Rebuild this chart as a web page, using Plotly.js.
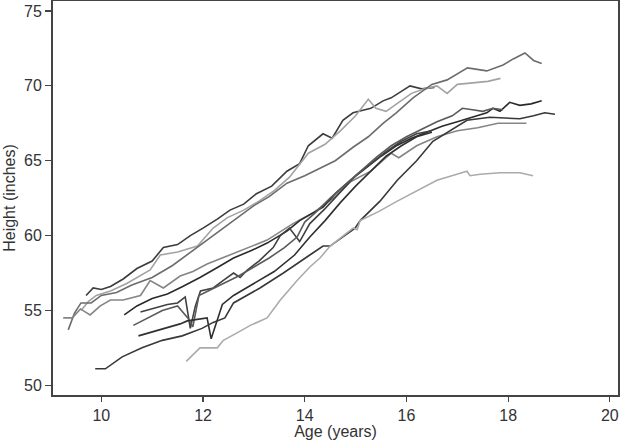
<!DOCTYPE html>
<html>
<head>
<meta charset="utf-8">
<script src="https://cdn.plot.ly/plotly-3.0.1.min.js"></script>
<style>html,body{margin:0;padding:0;background:#fff;}#chart{width:620px;height:440px;}</style>
</head>
<body>
<div id="chart"></div>
<script>
// Individual growth curves: age (years) and height (inches)
const agesA = [9.7, 9.84, 10.0, 10.18, 10.43, 10.7, 11.0, 11.22, 11.5, 11.75, 12.0, 12.28, 12.53, 12.8, 13.05, 13.35, 13.65, 13.9, 14.07, 14.36, 14.54, 14.75, 14.95, 15.09, 15.3, 15.54, 15.7, 16.07, 16.3, 16.55];
const heightsA = [56.0, 56.5, 56.4, 56.6, 57.1, 57.8, 58.3, 59.2, 59.4, 60.0, 60.5, 61.1, 61.7, 62.1, 62.8, 63.3, 64.3, 64.8, 66.0, 66.8, 66.5, 67.7, 68.2, 68.3, 68.5, 69.0, 69.2, 70.0, 69.8, 69.9];

const agesB = [9.6, 9.75, 9.9, 10.18, 10.5, 10.8, 10.96, 11.16, 11.5, 11.89, 12.2, 12.48, 12.8, 13.1, 13.4, 13.7, 14.07, 14.4, 14.7, 15.0, 15.25, 15.4, 15.6, 15.85, 16.1, 16.35, 16.6, 16.8, 17.0, 17.3, 17.6, 17.85];
const heightsB = [55.0, 55.6, 56.0, 56.3, 56.8, 57.4, 57.7, 58.7, 58.9, 59.3, 60.5, 61.2, 61.7, 62.3, 63.0, 63.9, 65.5, 66.1, 67.0, 68.0, 69.1, 68.5, 68.3, 68.9, 69.5, 69.8, 70.0, 69.5, 70.1, 70.2, 70.3, 70.5];

const agesC = [9.35, 9.47, 9.6, 9.8, 10.0, 10.3, 10.6, 11.0, 11.4, 11.8, 12.2, 12.6, 13.0, 13.3, 13.65, 14.0, 14.3, 14.6, 14.95, 15.25, 15.54, 15.8, 16.13, 16.5, 16.8, 17.2, 17.58, 17.9, 18.1, 18.33, 18.5, 18.66];
const heightsC = [53.7, 54.8, 55.5, 55.5, 56.0, 56.2, 56.7, 57.2, 58.0, 59.0, 60.0, 61.0, 62.0, 62.6, 63.5, 64.0, 64.5, 65.0, 65.9, 66.6, 67.5, 68.2, 69.2, 70.1, 70.4, 71.2, 71.0, 71.4, 71.8, 72.2, 71.7, 71.5];

const agesD = [9.25, 9.43, 9.59, 9.78, 9.98, 10.18, 10.43, 10.77, 10.96, 11.22, 11.55, 11.8, 12.08, 12.53, 13.0, 13.26, 13.77, 14.2, 14.6, 14.9, 15.3, 15.7, 15.85, 16.2, 16.6, 17.0, 17.4, 17.8, 18.1, 18.36];
const heightsD = [54.5, 54.5, 55.1, 54.7, 55.3, 55.7, 55.7, 56.0, 57.0, 56.5, 57.3, 57.6, 58.1, 58.7, 59.3, 59.7, 60.8, 61.6, 62.6, 63.6, 64.3, 65.5, 65.2, 66.0, 66.6, 67.0, 67.2, 67.5, 67.5, 67.5];

const agesE = [10.45, 10.7, 11.0, 11.3, 11.6, 11.94, 12.3, 12.6, 12.95, 13.26, 13.65, 13.9, 14.36, 14.6, 14.9, 15.2, 15.5, 15.8, 16.1, 16.4, 16.7, 17.0, 17.3, 17.58, 17.7, 17.84, 18.03, 18.23, 18.45, 18.66];
const heightsE = [54.7, 55.3, 55.8, 56.1, 56.6, 57.2, 57.9, 58.5, 59.0, 59.5, 60.3, 61.0, 61.9, 62.8, 63.7, 64.5, 65.3, 66.0, 66.5, 66.9, 67.3, 67.6, 67.9, 68.2, 68.5, 68.3, 68.9, 68.7, 68.8, 69.0];

const agesF = [10.77, 11.0, 11.3, 11.5, 11.65, 11.75, 11.85, 11.95, 12.2, 12.4, 12.6, 12.73, 12.87, 13.1, 13.38, 13.52, 13.7, 13.9, 14.1, 14.4, 14.7, 15.0, 15.3, 15.6, 15.9, 16.2, 16.5];
const heightsF = [54.9, 55.1, 55.4, 55.5, 55.9, 53.8, 55.3, 56.3, 56.5, 57.0, 57.5, 57.2, 57.7, 58.3, 59.2, 60.0, 60.5, 59.6, 60.8, 61.8, 62.9, 64.0, 64.8, 65.6, 66.3, 66.8, 67.0];

const agesG = [10.63, 10.9, 11.2, 11.5, 11.7, 11.8, 11.92, 12.1, 12.4, 12.7, 13.0, 13.3, 13.6, 13.85, 14.0, 14.2, 14.5, 14.8, 15.1, 15.4, 15.7, 16.0, 16.3, 16.6, 16.9, 17.1, 17.3, 17.5, 17.7, 17.9];
const heightsG = [54.0, 54.5, 55.0, 55.3, 54.5, 53.9, 56.0, 56.3, 56.8, 57.3, 57.9, 58.5, 59.2, 59.9, 60.9, 61.5, 62.5, 63.4, 64.3, 65.2, 66.0, 66.6, 67.1, 67.6, 68.0, 68.5, 68.4, 68.3, 68.5, 68.4];

const agesH = [10.73, 11.16, 11.55, 11.69, 12.08, 12.16, 12.38, 12.6, 13.0, 13.4, 13.8, 14.1, 14.4, 14.7, 15.0, 15.3, 15.6, 15.9, 16.2, 16.5];
const heightsH = [53.3, 53.7, 54.1, 54.3, 54.5, 53.1, 55.4, 56.0, 56.8, 57.6, 58.7, 59.9, 61.0, 62.2, 63.3, 64.3, 65.3, 66.0, 66.6, 66.9];

const agesI = [9.88, 10.08, 10.41, 10.8, 11.2, 11.59, 11.98, 12.2, 12.43, 12.6, 13.12, 13.58, 14.1, 14.36, 14.5, 14.99, 15.09, 15.48, 15.82, 16.2, 16.52, 16.86, 17.19, 17.64, 18.23, 18.5, 18.72, 18.92];
const heightsI = [51.1, 51.1, 51.9, 52.5, 53.0, 53.3, 53.8, 54.2, 54.5, 55.5, 56.5, 57.5, 58.7, 59.3, 59.3, 60.5, 61.0, 62.3, 63.7, 65.0, 66.3, 67.0, 67.7, 67.9, 67.8, 68.0, 68.2, 68.1];

const agesJ = [11.67, 11.94, 12.28, 12.4, 12.67, 12.93, 13.26, 13.52, 13.85, 14.1, 14.3, 14.5, 14.95, 15.03, 15.09, 15.45, 15.82, 16.2, 16.6, 16.99, 17.19, 17.25, 17.45, 17.84, 18.23, 18.49];
const heightsJ = [51.6, 52.5, 52.5, 53.0, 53.5, 54.0, 54.5, 55.7, 57.0, 57.9, 58.5, 59.3, 60.5, 60.4, 61.0, 61.6, 62.3, 63.0, 63.7, 64.1, 64.3, 64.0, 64.1, 64.2, 64.2, 64.0];

const xTicks = [10, 12, 14, 16, 18, 20];
const yTicks = [50, 55, 60, 65, 70, 75];

const series = [
  [agesA, heightsA, '#3c3c3c'],
  [agesB, heightsB, '#a3a3a3'],
  [agesC, heightsC, '#6c6c6c'],
  [agesD, heightsD, '#858585'],
  [agesE, heightsE, '#2a2a2a'],
  [agesF, heightsF, '#404040'],
  [agesG, heightsG, '#5a5a5a'],
  [agesH, heightsH, '#303030'],
  [agesI, heightsI, '#383838'],
  [agesJ, heightsJ, '#ababab']
];

const traces = series.map(s => ({
  x: s[0], y: s[1], type: 'scatter', mode: 'lines',
  line: {color: s[2], width: 1.6},
  hoverinfo: 'skip', showlegend: false
}));

const font = {family: '"Liberation Sans", Arial, sans-serif', size: 16, color: '#333'};
const titleFont = {family: '"Liberation Sans", Arial, sans-serif', size: 16, color: '#333'};

const layout = {
  width: 620, height: 440,
  margin: {l: 53, r: 2, t: 1, b: 45, pad: 0},
  paper_bgcolor: '#ffffff', plot_bgcolor: '#ffffff',
  font: font,
  showlegend: false,
  xaxis: {
    range: [9.05, 20.16], tickvals: xTicks, ticktext: xTicks.map(String),
    ticks: 'outside', ticklen: 5, tickwidth: 1.2, tickcolor: '#444',
    showgrid: false, zeroline: false,
    showline: true, linecolor: '#444', linewidth: 2, mirror: true,
    tickfont: font,
    title: {text: 'Age (years)', font: titleFont, standoff: 4}
  },
  yaxis: {
    range: [49.35, 75.67], tickvals: yTicks, ticktext: yTicks.map(String),
    ticks: 'outside', ticklen: 6, tickwidth: 1.2, tickcolor: '#444',
    showgrid: false, zeroline: false,
    showline: true, linecolor: '#444', linewidth: 2, mirror: true,
    tickfont: font,
    title: {text: 'Height (inches)', font: titleFont, standoff: 4}
  }
};

Plotly.newPlot('chart', traces, layout, {displayModeBar: false, staticPlot: true});
</script>
</body>
</html>
